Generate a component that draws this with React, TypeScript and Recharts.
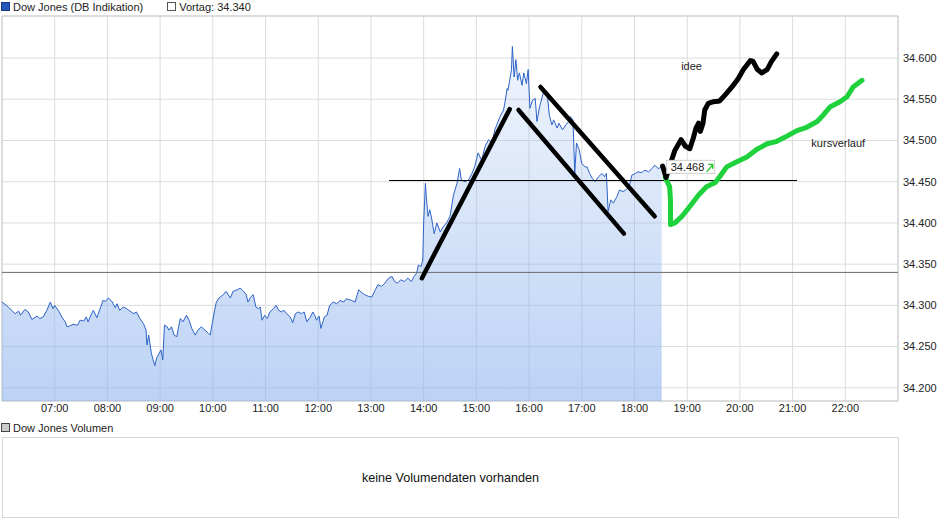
import React from 'react'
import {
  ComposedChart, XAxis, YAxis, CartesianGrid, Area, Line,
  ReferenceLine, ReferenceArea, ReferenceDot,
} from 'recharts'

// intraday quotes (time, index points)
const priceTimes = [
  '06:00', '06:05', '06:09', '06:15', '06:19', '06:21', '06:26', '06:30', '06:34', '06:40',
  '06:43', '06:47', '06:51', '06:55', '06:58', '07:00', '07:04', '07:08', '07:12', '07:14',
  '07:17', '07:21', '07:26', '07:29', '07:33', '07:36', '07:38', '07:42', '07:44', '07:48',
  '07:52', '07:55', '07:58', '08:01', '08:05', '08:09', '08:11', '08:14', '08:18', '08:22',
  '08:27', '08:30', '08:33', '08:37', '08:41', '08:44', '08:45', '08:47', '08:50', '08:52',
  '08:54', '08:56', '08:58', '09:01', '09:03', '09:05', '09:08', '09:10', '09:13', '09:16',
  '09:19', '09:21', '09:23', '09:26', '09:30', '09:33', '09:36', '09:40', '09:43', '09:47',
  '09:51', '09:55', '09:57', '10:00', '10:02', '10:04', '10:07', '10:12', '10:15', '10:20',
  '10:23', '10:28', '10:31', '10:35', '10:38', '10:40', '10:43', '10:46', '10:49', '10:52',
  '10:54', '10:56', '10:59', '11:02', '11:05', '11:09', '11:12', '11:15', '11:18', '11:21',
  '11:24', '11:28', '11:31', '11:34', '11:37', '11:41', '11:44', '11:47', '11:51', '11:54',
  '11:56', '11:58', '12:01', '12:03', '12:07', '12:10', '12:13', '12:17', '12:21', '12:25',
  '12:29', '12:32', '12:38', '12:42', '12:46', '12:50', '12:53', '12:57', '13:01', '13:05',
  '13:08', '13:12', '13:16', '13:20', '13:24', '13:27', '13:30', '13:34', '13:38', '13:42',
  '13:46', '13:49', '13:52', '13:54', '13:57', '13:59', '14:00', '14:02', '14:03', '14:05',
  '14:07', '14:09', '14:12', '14:15', '14:19', '14:22', '14:26', '14:30', '14:34', '14:38',
  '14:41', '14:43', '14:47', '14:51', '14:55', '14:58', '15:02', '15:06', '15:10', '15:14',
  '15:18', '15:21', '15:27', '15:31', '15:33', '15:35', '15:36', '15:38', '15:40', '15:41',
  '15:43', '15:45', '15:47', '15:49', '15:52', '15:54', '15:57', '15:59', '16:01', '16:04',
  '16:07', '16:09', '16:12', '16:16', '16:18', '16:21', '16:23', '16:26', '16:28', '16:32',
  '16:34', '16:38', '16:42', '16:45', '16:47', '16:50', '16:52', '16:54', '16:57', '17:00',
  '17:04', '17:06', '17:09', '17:12', '17:15', '17:19', '17:23', '17:26', '17:28', '17:30',
  '17:33', '17:36', '17:40', '17:43', '17:47', '17:50', '17:54', '17:57', '18:01', '18:04',
  '18:08', '18:12', '18:16', '18:20', '18:23', '18:27', '18:31',
]
const priceValues = [
  34304, 34300, 34296, 34290, 34293, 34288, 34295, 34292, 34283, 34287,
  34284, 34286, 34294, 34304, 34296, 34300, 34294, 34286, 34280, 34274,
  34275, 34277, 34276, 34282, 34281, 34286, 34280, 34290, 34294, 34285,
  34297, 34306, 34305, 34309, 34305, 34297, 34302, 34294, 34298, 34296,
  34292, 34290, 34292, 34284, 34278, 34270, 34252, 34264, 34242, 34234,
  34227, 34236, 34240, 34246, 34234, 34276, 34274, 34270, 34274, 34264,
  34262, 34274, 34284, 34280, 34288, 34282, 34272, 34264, 34270, 34274,
  34270, 34266, 34264, 34282, 34294, 34304, 34309, 34313, 34317, 34309,
  34317, 34319, 34321, 34317, 34313, 34304, 34310, 34313, 34298, 34296,
  34298, 34282, 34288, 34284, 34292, 34296, 34300, 34294, 34292, 34294,
  34290, 34286, 34279, 34290, 34292, 34290, 34292, 34280, 34286, 34292,
  34288, 34282, 34287, 34272, 34286, 34288, 34300, 34304, 34302, 34306,
  34304, 34308, 34306, 34304, 34319, 34315, 34313, 34311, 34310, 34319,
  34325, 34323, 34327, 34333, 34335, 34329, 34327, 34331, 34329, 34333,
  34329, 34335, 34339, 34349, 34347, 34355, 34400, 34448, 34432, 34408,
  34416, 34406, 34387, 34400, 34389, 34395, 34400, 34408, 34434, 34448,
  34466, 34452, 34450, 34452, 34460, 34468, 34485, 34476, 34493, 34501,
  34497, 34513, 34529, 34537, 34549, 34563, 34561, 34573, 34586, 34614,
  34577, 34598, 34573, 34582, 34567, 34582, 34569, 34586, 34539, 34549,
  34551, 34523, 34541, 34557, 34559, 34553, 34531, 34519, 34525, 34515,
  34521, 34513, 34519, 34523, 34529, 34525, 34460, 34497, 34489, 34472,
  34468, 34468, 34460, 34454, 34450, 34456, 34460, 34456, 34460, 34414,
  34428, 34424, 34432, 34440, 34438, 34440, 34444, 34458, 34460, 34462,
  34461, 34464, 34462, 34466, 34470, 34466, 34468,
]

const prevClose = 34340
const lastPrice = 34468
const lastTime = '18:31'

// hand drawn "idee" (black) and "kursverlauf" (green)
const ideeTimes = [
  '18:32', '18:36', '18:41', '18:46', '18:53', '18:58', '19:03', '19:07', '19:10', '19:13',
  '19:15', '19:18', '19:20', '19:24', '19:30', '19:37', '19:43', '19:51', '19:58', '20:04',
  '20:12', '20:15', '20:20', '20:25', '20:31', '20:36', '20:42',
]
const ideeValues = [
  34469, 34455, 34472, 34488, 34501, 34493, 34490, 34503, 34515, 34521,
  34511, 34521, 34537, 34545, 34547, 34548, 34555, 34565, 34575, 34586,
  34597, 34596, 34586, 34582, 34586, 34596, 34605,
]
const kursTimes = [
  '18:35', '18:40', '18:41', '18:41', '18:41', '18:46', '18:54', '19:03', '19:13', '19:22',
  '19:32', '19:37', '19:45', '19:56', '20:08', '20:19', '20:31', '20:42', '20:53', '21:05',
  '21:16', '21:28', '21:35', '21:43', '21:54', '22:02', '22:09', '22:19',
]
const kursValues = [
  34455, 34444, 34428, 34412, 34398, 34400, 34408, 34420, 34434, 34444,
  34449, 34456, 34468, 34474, 34480, 34489, 34496, 34499, 34505, 34512,
  34516, 34523, 34531, 34541, 34547, 34553, 34565, 34573,
]

// straight trend strokes: [startTime, startValue, endTime, endValue]
const trendStrokes: [string, number, string, number][] = [
  ['13:58', 34333, '15:38', 34538],
  ['15:48', 34537, '17:48', 34387],
  ['16:13', 34565, '18:23', 34408],
]
const supportLine: [string, string, number] = ['13:20', '21:05', 34451.4]

const hourTicks = [7, 8, 9, 10, 11, 12, 13, 14, 15, 16, 17, 18, 19, 20, 21, 22]
const priceTicks = [34200, 34250, 34300, 34350, 34400, 34450, 34500, 34550, 34600]

const toHours = (s: string) => {
  const [h, m] = s.split(':').map(Number)
  return h + m / 60
}
const fmtPrice = (v: number) => (v / 1000).toFixed(3)

const priceData = priceTimes.map((t, i) => ({ t: toHours(t), v: priceValues[i] }))
const ideeData = ideeTimes.map((t, i) => ({ t: toHours(t), v: ideeValues[i] }))
const kursData = kursTimes.map((t, i) => ({ t: toHours(t), v: kursValues[i] }))

const FONT = "'Liberation Sans', Arial, sans-serif"
const Y_DOMAIN: [number, number] = [34184, 34651]

const LastPriceTag = (props: any) => {
  const { cx, cy } = props
  return (
    <g>
      <rect x={cx + 5} y={cy - 6.5} width={48} height={13} fill="#fff" stroke="#cfcfcf" />
      <text x={cx + 9} y={cy + 4} fontSize={11} fontFamily={FONT} fill="#222">
        {fmtPrice(lastPrice)}
      </text>
      <path
        d={`M${cx + 45} ${cy + 5} L${cx + 51} ${cy - 2} M${cx + 46.5} ${cy - 2.5} L${cx + 51} ${cy - 2.5} L${cx + 51} ${cy + 2}`}
        stroke="#1ec81e" strokeWidth={1.4} fill="none"
      />
    </g>
  )
}

const NoteText = (text: string) => (props: any) => (
  <text x={props.cx} y={props.cy + 4} textAnchor="middle" fontSize={11} fontFamily={FONT} fill="#222">
    {text}
  </text>
)

export default function App() {
  return (
    <div style={{ position: 'absolute', left: 0, top: 0, width: 940, height: 526, background: '#fff', fontFamily: FONT }}>
      <div style={{ position: 'absolute', left: 1, top: 0, fontSize: 11, color: '#222', display: 'flex', alignItems: 'center', height: 13 }}>
        <span style={{ display: 'inline-block', width: 7, height: 7, background: '#2157bb', border: '1px solid #153a80', marginRight: 3 }} />
        <span>Dow Jones (DB Indikation)</span>
        <span style={{ display: 'inline-block', width: 7, height: 7, background: '#fff', border: '1px solid #555', marginLeft: 24, marginRight: 3 }} />
        <span>Vortag: {fmtPrice(prevClose)}</span>
      </div>

      <ComposedChart width={940} height={422} margin={{ top: 16, right: 0, bottom: 0, left: 2 }}>
        <defs>
          <linearGradient id="priceFill" x1="0" y1="0" x2="0" y2="1">
            <stop offset="0%" stopColor="#8fb4ee" stopOpacity={0.13} />
            <stop offset="100%" stopColor="#8fb4ee" stopOpacity={0.6} />
          </linearGradient>
        </defs>
        <CartesianGrid stroke="#dcdcdc" />
        <XAxis
          type="number"
          dataKey="t"
          domain={[6, 23]}
          ticks={hourTicks}
          tickFormatter={(h: number) => `${String(h).padStart(2, '0')}:00`}
          axisLine={false}
          tickLine={false}
          tickSize={0}
          tickMargin={3}
          height={21}
          tick={{ fontSize: 11, fill: '#222', fontFamily: FONT }}
          allowDataOverflow
        />
        <YAxis
          type="number"
          orientation="right"
          domain={Y_DOMAIN}
          ticks={priceTicks}
          tickFormatter={fmtPrice}
          axisLine={false}
          tickLine={false}
          tickSize={0}
          tickMargin={5}
          width={42}
          tick={{ fontSize: 11, fill: '#222', fontFamily: FONT, textAnchor: 'start' }}
          allowDataOverflow
        />
        <ReferenceArea x1={6} x2={23} y1={Y_DOMAIN[0]} y2={Y_DOMAIN[1]} fill="none" stroke="#cccccc" />
        <Area
          data={priceData}
          dataKey="v"
          type="linear"
          stroke="#2d63c8"
          strokeWidth={1}
          fill="url(#priceFill)"
          fillOpacity={1}
          dot={false}
          activeDot={false}
          isAnimationActive={false}
        />
        <ReferenceLine y={prevClose} stroke="#6a6a6a" strokeWidth={1} />
        <ReferenceLine
          segment={[{ x: toHours(supportLine[0]), y: supportLine[2] }, { x: toHours(supportLine[1]), y: supportLine[2] }]}
          stroke="#000"
          strokeWidth={1}
          shapeRendering="crispEdges"
        />
        <ReferenceDot x={toHours(lastTime)} y={lastPrice} r={0} shape={LastPriceTag} />
        {trendStrokes.map(([t1, v1, t2, v2], i) => (
          <ReferenceLine
            key={i}
            segment={[{ x: toHours(t1), y: v1 }, { x: toHours(t2), y: v2 }]}
            stroke="#000"
            strokeWidth={4.5}
            strokeLinecap="round"
          />
        ))}
        <Line
          data={kursData}
          dataKey="v"
          type="linear"
          stroke="#1fd13c"
          strokeWidth={5}
          strokeLinecap="round"
          strokeLinejoin="round"
          dot={false}
          activeDot={false}
          isAnimationActive={false}
        />
        <Line
          data={ideeData}
          dataKey="v"
          type="linear"
          stroke="#000"
          strokeWidth={5}
          strokeLinecap="round"
          strokeLinejoin="round"
          dot={false}
          activeDot={false}
          isAnimationActive={false}
        />
        <ReferenceDot x={toHours('19:05')} y={34590} r={0} shape={NoteText('idee')} />
        <ReferenceDot x={toHours('21:52')} y={34497} r={0} shape={NoteText('kursverlauf')} />
      </ComposedChart>

      <div style={{ position: 'absolute', left: 1, top: 421, fontSize: 11, color: '#222', display: 'flex', alignItems: 'center', height: 13 }}>
        <span style={{ display: 'inline-block', width: 7, height: 7, background: '#ccc', border: '1px solid #444', marginRight: 3 }} />
        <span>Dow Jones Volumen</span>
      </div>
      <div
        style={{
          position: 'absolute', left: 2, top: 437, width: 895, height: 79,
          border: '1px solid #d6d6d6', display: 'flex', alignItems: 'center', justifyContent: 'center',
          fontSize: 12.6, color: '#111',
        }}
      >
        keine Volumendaten vorhanden
      </div>
    </div>
  )
}
